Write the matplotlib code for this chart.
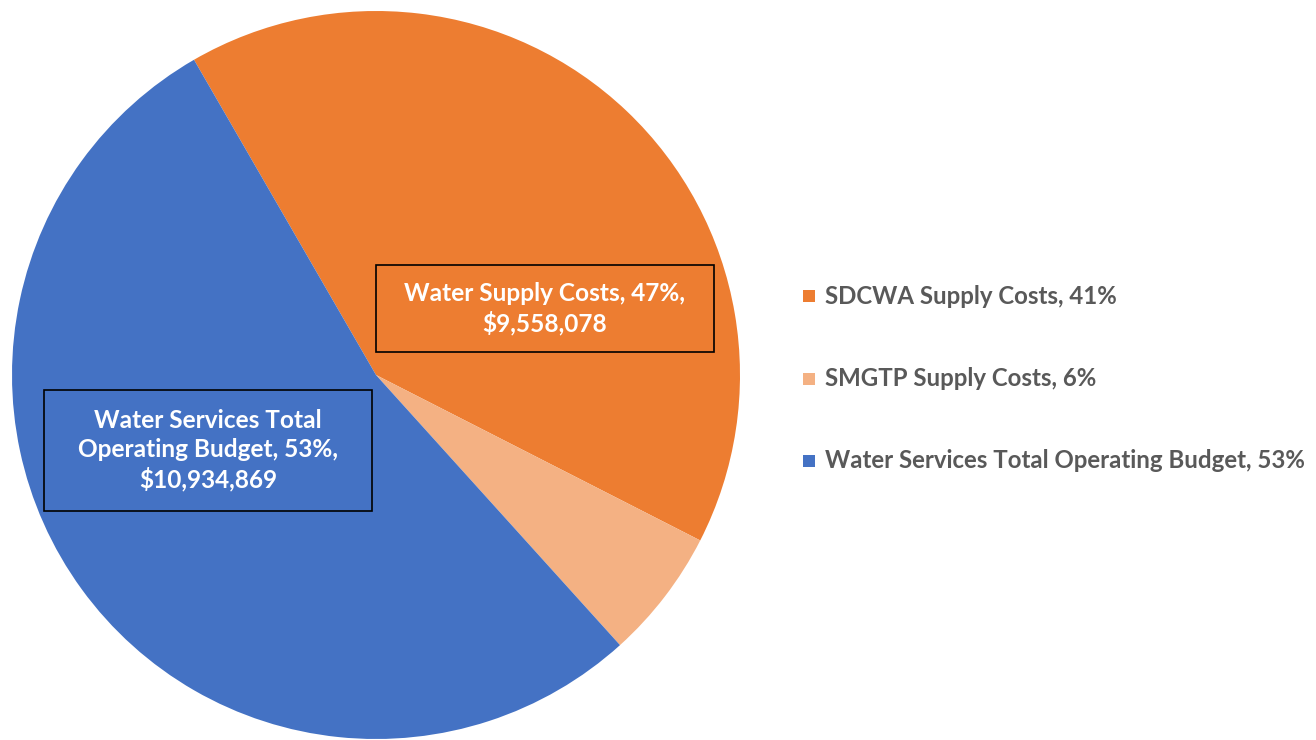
import matplotlib
matplotlib.use("Agg")
import matplotlib.pyplot as plt
from matplotlib.patches import Rectangle

categories = ["SDCWA Supply Costs", "SMGTP Supply Costs", "Water Services Total Operating Budget"]
values = [8370000, 1188078, 10934869]
legend_pcts = ["41%", "6%", "53%"]
colors = ["#ED7D31", "#F4B183", "#4472C4"]
supply_label = "Water Supply Costs, 47%,\n$9,558,078"
budget_label = "Water Services Total\nOperating Budget, 53%,\n$10,934,869"

W, H = 1316, 740
fig = plt.figure(figsize=(W / 100, H / 100), dpi=100)
fig.patch.set_facecolor("white")

cx, cy, r = 376, 375, 364
ax = fig.add_axes([(cx - r) / W, (H - cy - r) / H, 2 * r / W, 2 * r / H])
ax.pie(values, colors=colors, startangle=120, counterclock=False, radius=1,
       wedgeprops=dict(linewidth=0))
ax.set_xlim(-1, 1)
ax.set_ylim(-1, 1)
ax.set_aspect("equal")
ax.axis("off")

font = "Lato"

def box(x0, y0, x1, y1, fc, text):
    fig.patches.append(Rectangle((x0 / W, 1 - y1 / H), (x1 - x0) / W, (y1 - y0) / H,
                                 transform=fig.transFigure, facecolor=fc,
                                 edgecolor="black", linewidth=1.2, zorder=5))
    fig.text((x0 + x1) / 2 / W, 1 - (y0 + y1) / 2 / H, text, ha="center", va="center",
             color="white", fontsize=17.6, fontweight="bold", family=font,
             linespacing=1.3, zorder=6)

box(376, 265, 714, 352, colors[0], supply_label)
box(44, 390, 372, 511, colors[2], budget_label)

rows = [296, 379, 461]
for name, pct, c, y in zip(categories, legend_pcts, colors, rows):
    fig.patches.append(Rectangle((803 / W, 1 - (y + 6) / H), 12 / W, 12 / H,
                                 transform=fig.transFigure, facecolor=c,
                                 edgecolor="none"))
    fig.text(825 / W, 1 - y / H, f"{name}, {pct}", ha="left", va="center",
             color="#595959", fontsize=17.3, fontweight="bold", family=font)

fig.savefig("out.png", dpi=100, facecolor="white")
